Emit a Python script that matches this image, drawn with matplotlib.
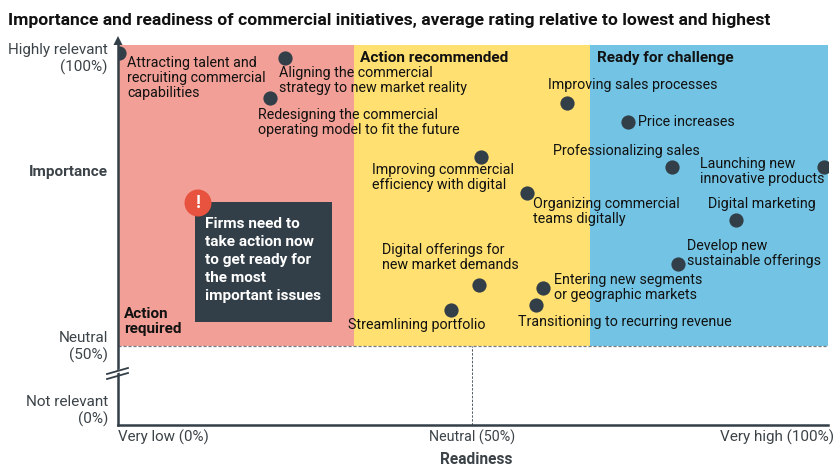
import matplotlib
matplotlib.use('Agg')
import matplotlib.pyplot as plt
from matplotlib.patches import Circle, Rectangle

plt.rcParams['font.family'] = ['Roboto', 'DejaVu Sans']

labels = ['Attracting talent and\nrecruiting commercial\ncapabilities',
          'Aligning the commercial\nstrategy to new market reality',
          'Redesigning the commercial\noperating model to fit the future',
          'Improving sales processes',
          'Price increases',
          'Improving commercial\nefficiency with digital',
          'Professionalizing sales',
          'Launching new\ninnovative products',
          'Organizing commercial\nteams digitally',
          'Digital marketing',
          'Develop new\nsustainable offerings',
          'Digital offerings for\nnew market demands',
          'Entering new segments\nor geographic markets',
          'Transitioning to recurring revenue',
          'Streamlining portfolio']
readiness = [0, 23.5, 21.4, 63.5, 72.2, 51.4, 78.4, 100, 57.9, 87.5, 79.3, 51.1, 60.2, 59.2, 47.1]
importance = [100, 99.1, 92.3, 91.5, 88.2, 82.3, 80.6, 80.6, 76.1, 71.6, 64, 60.5, 60, 57.1, 56.2]

# label offset from the dot, in pixels
offsets = [(8, -25), (-6, -22.5), (-12, -24), (-19, 18), (10, 0), (-109, -21), (-119, 16), (-124, -5),
           (6, -18), (-28, 16), (9, 11), (-97, 27), (11, 0), (-18, -17), (-103, -15)]

DARK = '#333f48'
W, H = 840, 476
L, R, T, B = 118, 828, 45, 424.5


def py(y):
    # pixel row to figure fraction
    return 1 - y / H


fig = plt.figure(figsize=(8.4, 4.76), dpi=100)
ax = fig.add_axes([L / W, 1 - B / H, (R - L) / W, (B - T) / H])
ax.set_xlim(-0.14, 100.57)
ax.set_ylim(36.7, 101.36)

ymin = (50 - 36.7) / (101.36 - 36.7)
ax.axvspan(-0.14, 33.33, ymin=ymin, color='#f2a097', lw=0, zorder=0)
ax.axvspan(33.33, 66.75, ymin=ymin, color='#ffe070', lw=0, zorder=0)
ax.axvspan(66.75, 100.57, ymin=ymin, color='#73c4e4', lw=0, zorder=0)

ax.axhline(50, color='#777c80', lw=0.9, ls=(0, (2.5, 1.5)), zorder=1)
ax.plot([50.1, 50.1], [36.7, 50], color='#555c62', lw=0.7, ls=(0, (2.5, 1.5)), zorder=1)

ax.scatter(readiness, importance, s=105, color=DARK, lw=0, zorder=3)

for name, x, y, off in zip(labels, readiness, importance, offsets):
    ax.annotate(name, (x, y), xytext=off, textcoords='offset pixels', ha='left', va='center',
                fontsize=10.3, color='#111111', linespacing=1.08, zorder=4)

for s in ['top', 'right']:
    ax.spines[s].set_visible(False)
for s in ['left', 'bottom']:
    ax.spines[s].set_color(DARK)
    ax.spines[s].set_linewidth(1.8)
ax.set_xticks([])
ax.set_yticks([])

# band titles
fig.text(360 / W, py(58), 'Action recommended', fontsize=11.1, fontweight='bold', va='center', color='#111111')
fig.text(597 / W, py(58), 'Ready for challenge', fontsize=11, fontweight='bold', va='center', color='#111111')
fig.text(124 / W, py(321.5), 'Action\nrequired', fontsize=11, fontweight='bold', va='center', color='#111111',
         linespacing=1.12)

# callout
fig.add_artist(Rectangle((195 / W, py(322)), 137 / W, 120 / H, transform=fig.transFigure, color=DARK, lw=0, zorder=5))
fig.add_artist(Circle((198, H - 203), 13.5, transform=None, color='#e8533f', lw=0, zorder=6))
fig.text(198 / W, py(203), '!', color='white', fontsize=13, fontweight='bold', ha='center', va='center', zorder=7)
fig.text(205 / W, py(260), 'Firms need to\ntake action now\nto get ready for\nthe most\nimportant issues', color='white',
         fontsize=11.1, fontweight='bold', va='center', linespacing=1.36, zorder=7)

# y axis labels
GREY = '#3c4348'
fig.text(108 / W, py(59), 'Highly relevant\n(100%)', fontsize=11, color=GREY, ha='right', va='center', linespacing=1.24)
fig.text(108 / W, py(172), 'Importance', fontsize=11, fontweight='bold', color=GREY, ha='right', va='center')
fig.text(108 / W, py(347), 'Neutral\n(50%)', fontsize=11, color=GREY, ha='right', va='center', linespacing=1.24)
fig.text(108 / W, py(411), 'Not relevant\n(0%)', fontsize=11, color=GREY, ha='right', va='center', linespacing=1.24)

# x axis labels
fig.text(118 / W, py(437), 'Very low (0%)', fontsize=10.9, color=GREY, va='center')
fig.text(472 / W, py(437), 'Neutral (50%)', fontsize=10.3, color=GREY, ha='center', va='center')
fig.text(834 / W, py(437), 'Very high (100%)', fontsize=11, color=GREY, ha='right', va='center')
fig.text(476 / W, py(460), 'Readiness', fontsize=11.2, fontweight='bold', color=GREY, ha='center', va='center')

fig.text(8 / W, py(20), 'Importance and readiness of commercial initiatives, average rating relative to lowest and highest',
         fontsize=12.6, fontweight='bold', color='#111111', va='center')

# arrow head and axis break
fig.add_artist(plt.Polygon([(113.5, H - 45), (122.5, H - 45), (118, H - 36)], transform=None, color=DARK, lw=0, zorder=6))
fig.add_artist(Rectangle((107, H - 376), 21, 3, transform=None, color='white', lw=0, zorder=5, angle=15))
for dy in (0, 5):
    fig.add_artist(plt.Line2D([107, 128], [H - 378 + dy - 1, H - 372 + dy - 1], transform=None, color=DARK, lw=1.3, zorder=6))

fig.savefig('out.png', dpi=100)
